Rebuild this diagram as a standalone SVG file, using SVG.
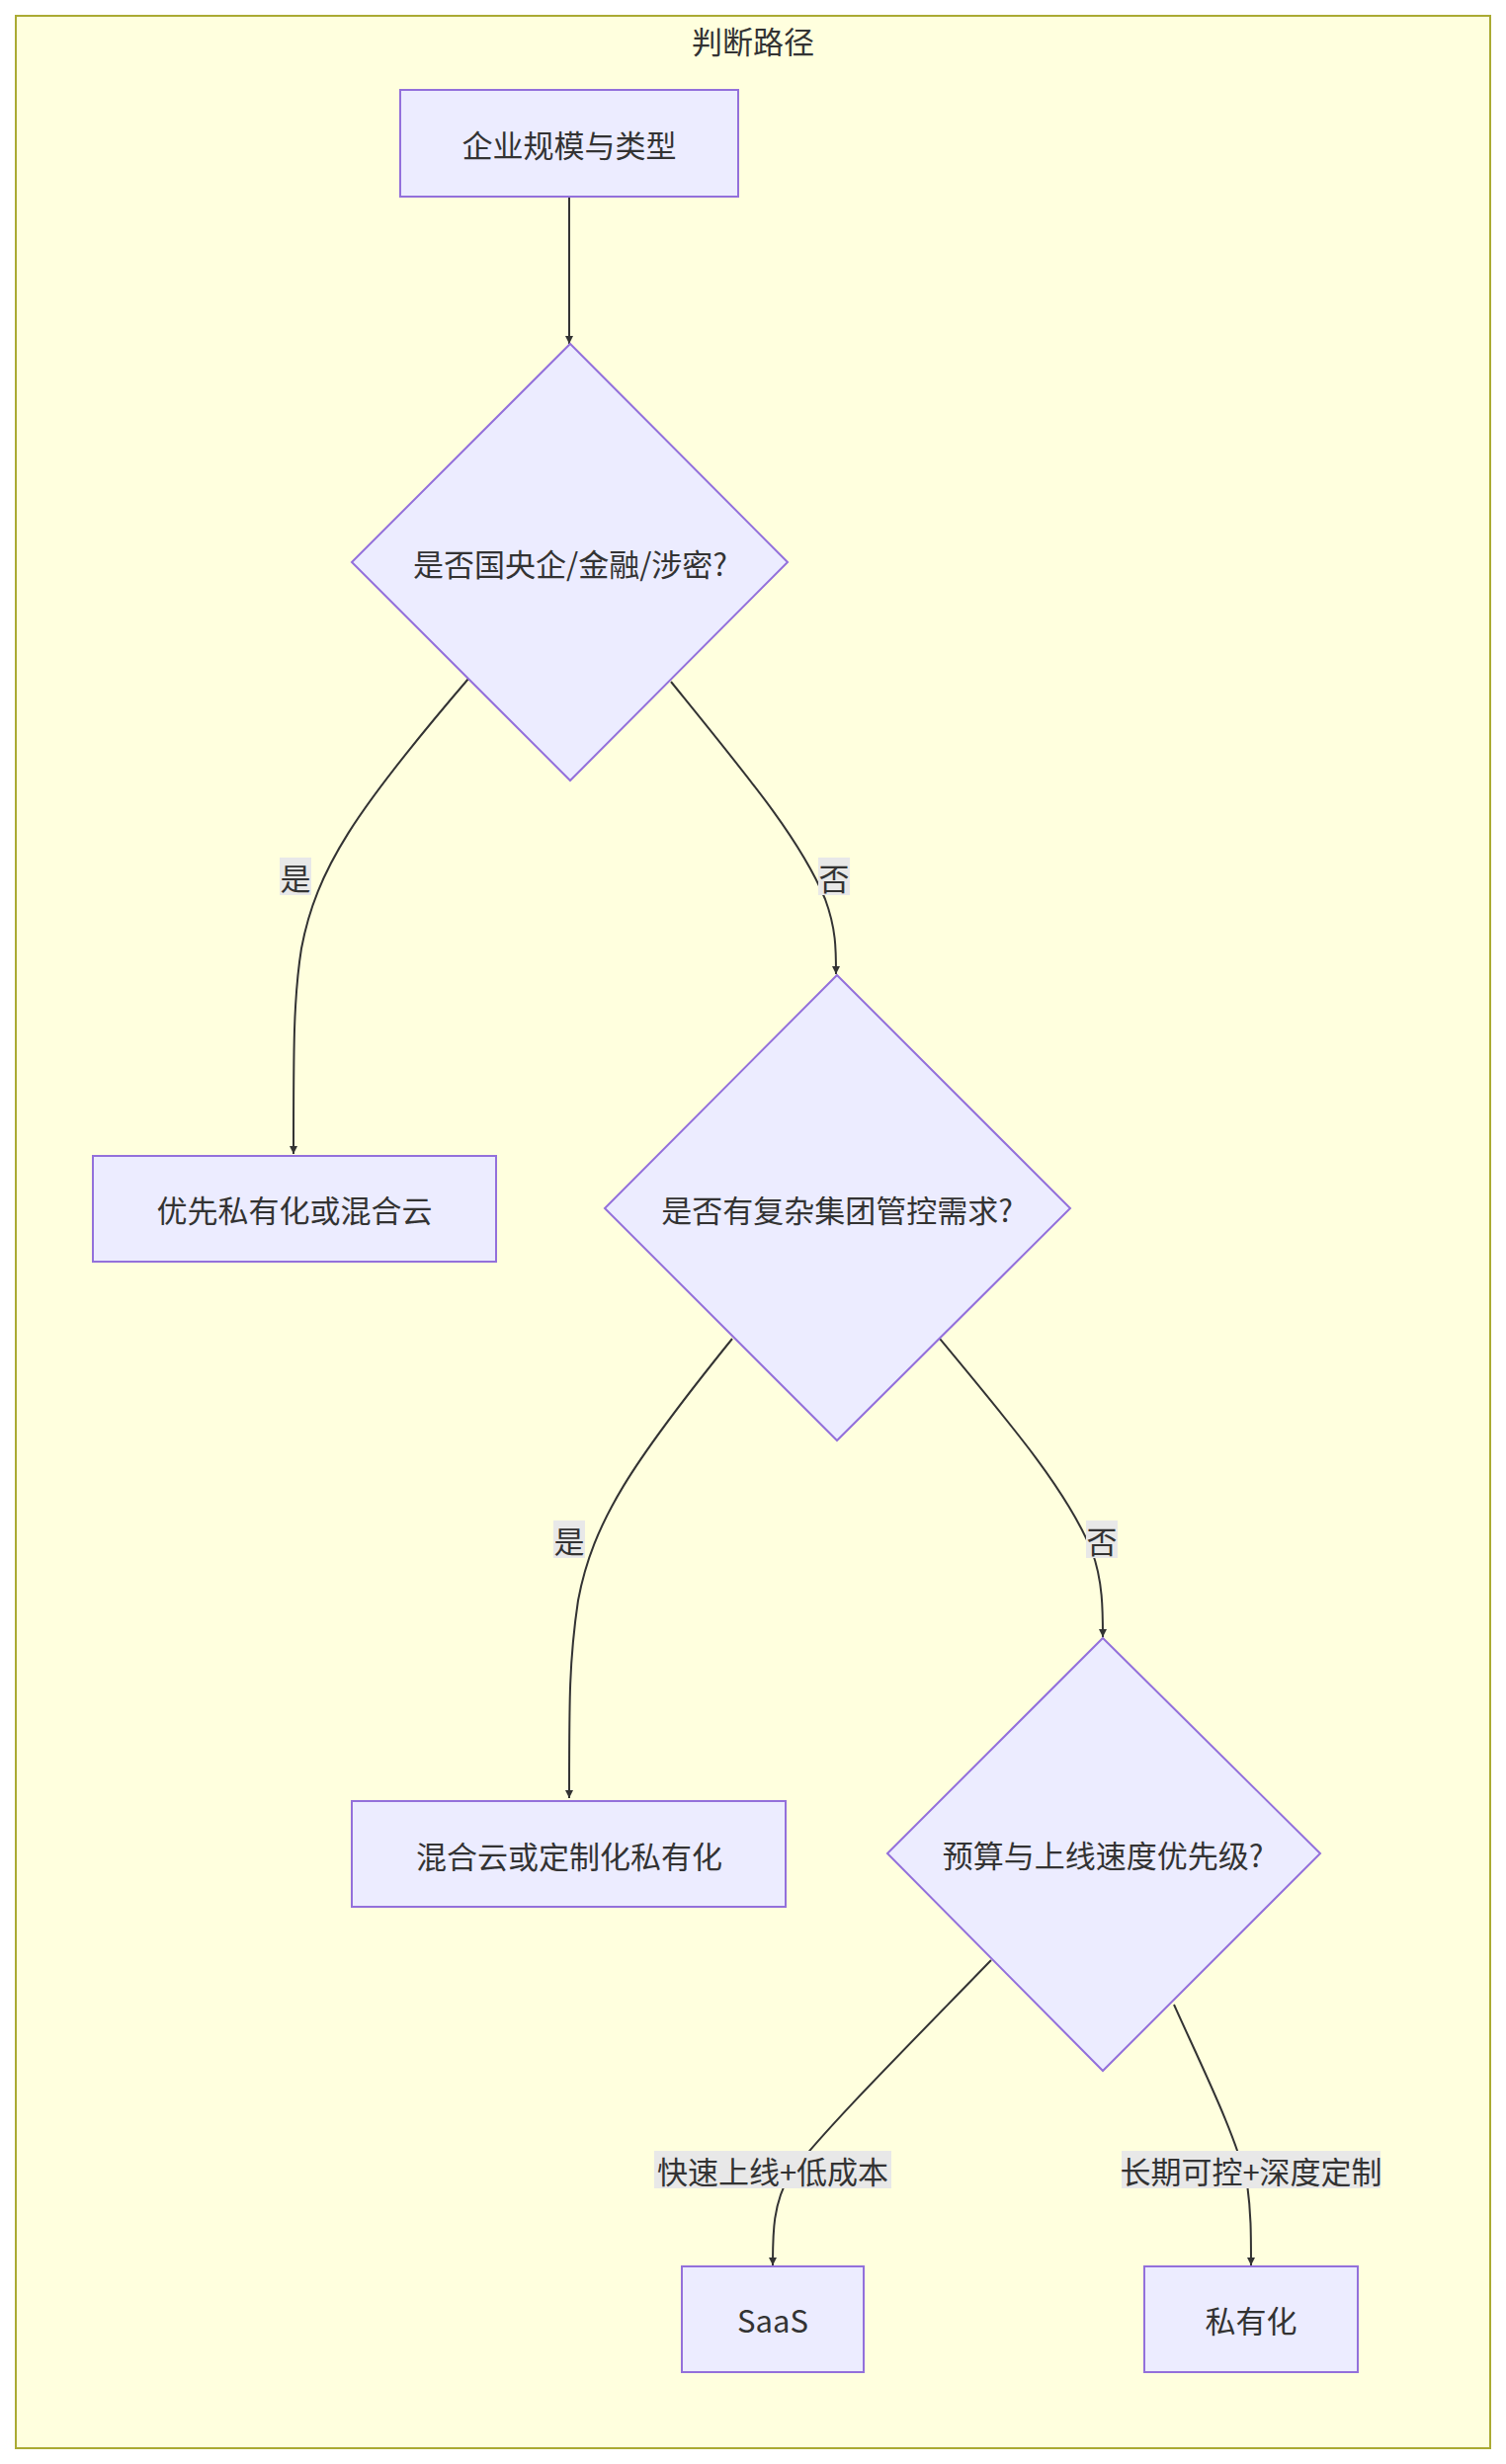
<svg xmlns="http://www.w3.org/2000/svg" width="1524" height="2494" viewBox="0 0 1524 2494">
<style>
text{font-family:"Noto Sans CJK SC","Liberation Sans",sans-serif;font-size:31px;fill:#333;text-anchor:middle;dominant-baseline:central}
.n{fill:#ececff;stroke:#9370db;stroke-width:2}
.e{fill:none;stroke:#333;stroke-width:2;marker-end:url(#a)}
.lb{fill:#e8e8e8}
</style>
<defs><marker id="a" viewBox="0 0 10 10" refX="10" refY="5" markerWidth="8" markerHeight="8" orient="auto" markerUnits="userSpaceOnUse" ><path d="M0,0L10,5L0,10z" fill="#333"/></marker></defs>
<rect x="16" y="16" width="1492" height="2462" fill="#ffffde" stroke="#aaaa33" stroke-width="2"/>
<text x="762" y="40">判断路径</text>
<g id="edges">
<path class="e" d="M576,199 L576,348" style="marker-end:url(#a)"/>
<path class="e" d="M474,687 C360,820 320,880 305,960 C297,1010 297,1060 297,1168"/>
<path class="e" d="M679,690 C760,790 810,850 835,910 C846,940 846,960 846,986"/>
<path class="e" d="M741,1355 C640,1480 600,1540 585,1620 C576,1680 576,1720 576,1820"/>
<path class="e" d="M951,1355 C1030,1450 1080,1510 1105,1570 C1116,1600 1116,1630 1116,1657"/>
<path class="e" d="M1003,1984 C900,2090 840,2150 800,2200 C782,2230 782,2260 782,2293"/>
<path class="e" d="M1188,2029 C1220,2100 1250,2160 1262,2210 C1266,2240 1266,2260 1266,2293"/>
<rect class="lb" x="283" y="868" width="32" height="38"/><text x="299" y="887">是</text>
<rect class="lb" x="828" y="868" width="32" height="38"/><text x="844" y="887">否</text>
<rect class="lb" x="560" y="1539" width="32" height="38"/><text x="576" y="1558">是</text>
<rect class="lb" x="1099" y="1539" width="32" height="38"/><text x="1115" y="1558">否</text>
<rect class="lb" x="662" y="2177" width="240" height="38"/><text x="782" y="2196">快速上线+低成本</text>
<rect class="lb" x="1135" y="2177" width="262" height="38"/><text x="1266" y="2196">长期可控+深度定制</text>
</g>
<g id="n1"><rect class="n" x="405" y="91" width="342" height="108"/><text x="576" y="145">企业规模与类型</text></g>
<g id="n2"><polygon class="n" points="577,348 797,569 577,790 356,569"/><text x="577" y="569">是否国央企/金融/涉密?</text></g>
<g id="n3"><rect class="n" x="94" y="1170" width="408" height="107"/><text x="298" y="1223">优先私有化或混合云</text></g>
<g id="n4"><polygon class="n" points="847,987 1083,1223 847,1458 612,1223"/><text x="847" y="1223">是否有复杂集团管控需求?</text></g>
<g id="n5"><rect class="n" x="356" y="1823" width="439" height="107"/><text x="576" y="1877">混合云或定制化私有化</text></g>
<g id="n6"><polygon class="n" points="1116,1658 1336,1876 1116,2096 898,1876"/><text x="1116" y="1876">预算与上线速度优先级?</text></g>
<g id="n7"><rect class="n" x="690" y="2294" width="184" height="107"/><text x="782" y="2347">SaaS</text></g>
<g id="n8"><rect class="n" x="1158" y="2294" width="216" height="107"/><text x="1266" y="2347">私有化</text></g>
</svg>
